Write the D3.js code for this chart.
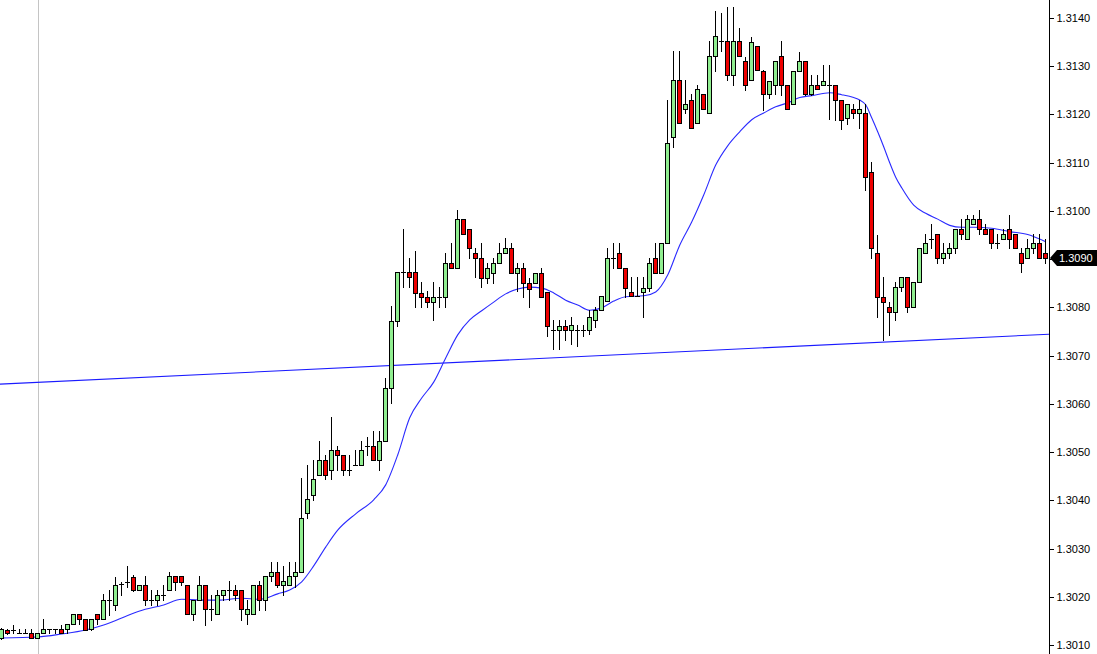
<!DOCTYPE html>
<html>
<head>
<meta charset="utf-8">
<script src="https://cdn.jsdelivr.net/npm/d3@7/dist/d3.min.js"></script>
<style>
  html, body { margin: 0; padding: 0; background: #fff; }
  svg { display: block; }
</style>
</head>
<body>
<svg id="chart" width="1097" height="654"></svg>
<script>
// ---------------- DATA ----------------
const openP = [
1.30115,1.30132,1.30132,1.30124,1.30124,1.30124,1.30114,1.30124,1.30133,1.30133,
1.30133,1.30133,1.30143,1.30164,1.30153,1.30133,1.30164,1.30153,1.30193,1.30183,
1.30226,1.30231,1.30242,1.30214,1.30224,1.30193,1.30193,1.30204,1.30214,1.30243,
1.30243,1.30224,1.30164,1.30193,1.30224,1.30174,1.30164,1.30204,1.30214,1.30214,
1.30214,1.30164,1.30164,1.30224,1.30193,1.30243,1.30252,1.30224,1.30224,1.30243,
1.30252,1.30373,1.30412,1.30452,1.30484,1.30463,1.30504,1.30494,1.30463,1.30473,
1.30473,1.30513,1.30513,1.30484,1.30523,1.30632,1.30772,1.30874,1.30874,1.30874,
1.30830,1.30822,1.30812,1.30822,1.30822,1.30891,1.30881,1.30983,1.30962,1.30912,
1.30902,1.30860,1.30872,1.30891,1.30912,1.30923,1.30872,1.30881,1.30851,1.30851,
1.30872,1.30831,1.30753,1.30753,1.30761,1.30753,1.30753,1.30753,1.30753,1.30774,
1.30795,1.30813,1.30902,1.30912,1.30881,1.30831,1.30824,1.30831,1.30841,1.30902,
1.30872,1.30933,1.31153,1.31271,1.31211,1.31231,1.31182,1.31242,1.31202,1.31321,
1.31352,1.31352,1.31282,1.31352,1.31311,1.31271,1.31341,1.31291,1.31242,1.31261,
1.31321,1.31261,1.31222,1.31291,1.31311,1.31242,1.31261,1.31261,1.31261,1.31261,
1.31231,1.31192,1.31211,1.31202,1.31202,1.31081,1.30912,1.30822,1.30801,1.30791,
1.30842,1.30862,1.30801,1.30852,1.30912,1.30941,1.30952,1.30902,1.30912,1.30923,
1.30962,1.30941,1.30973,1.30983,1.30962,1.30962,1.30933,1.30941,1.30962,1.30952,
1.30912,1.30902,1.30923,1.30933,1.30912
];
const highP = [
1.30135,1.30133,1.30141,1.30133,1.30133,1.30133,1.30124,1.30154,1.30133,1.30133,
1.30141,1.30143,1.30164,1.30164,1.30153,1.30153,1.30164,1.30206,1.30214,1.30242,
1.30231,1.30264,1.30245,1.30224,1.30243,1.30214,1.30214,1.30224,1.30252,1.30243,
1.30243,1.30224,1.30193,1.30243,1.30224,1.30204,1.30214,1.30214,1.30233,1.30224,
1.30214,1.30193,1.30224,1.30233,1.30243,1.30273,1.30273,1.30264,1.30273,1.30273,
1.30446,1.30473,1.30484,1.30523,1.30494,1.30572,1.30513,1.30494,1.30494,1.30504,
1.30523,1.30532,1.30544,1.30544,1.30653,1.30803,1.30874,1.30962,1.30902,1.30916,
1.30853,1.30834,1.30853,1.30842,1.30912,1.30933,1.31002,1.30983,1.30962,1.30923,
1.30933,1.30891,1.30902,1.30933,1.30943,1.30933,1.30891,1.30891,1.30860,1.30872,
1.30881,1.30831,1.30774,1.30774,1.30774,1.30781,1.30763,1.30763,1.30795,1.30801,
1.30824,1.30923,1.30933,1.30933,1.30881,1.30864,1.30864,1.30864,1.30902,1.30933,
1.30933,1.31231,1.31332,1.31332,1.31271,1.31242,1.31261,1.31242,1.31352,1.31415,
1.31411,1.31423,1.31423,1.31380,1.31320,1.31360,1.31341,1.31292,1.31270,1.31311,
1.31352,1.31261,1.31291,1.31330,1.31311,1.31282,1.31282,1.31303,1.31303,1.31261,
1.31231,1.31221,1.31222,1.31231,1.31222,1.31102,1.30950,1.30864,1.30812,1.30853,
1.30862,1.30862,1.30852,1.30923,1.30952,1.30973,1.30952,1.30933,1.30933,1.30962,
1.30983,1.30992,1.30992,1.31002,1.30972,1.30962,1.30952,1.30962,1.30992,1.30952,
1.30923,1.30941,1.30952,1.30952,1.30941
];
const lowP = [
1.30113,1.30123,1.30124,1.30124,1.30124,1.30114,1.30114,1.30124,1.30124,1.30124,
1.30124,1.30124,1.30143,1.30143,1.30131,1.30131,1.30143,1.30153,1.30162,1.30173,
1.30204,1.30221,1.30212,1.30214,1.30183,1.30183,1.30183,1.30193,1.30214,1.30214,
1.30224,1.30164,1.30152,1.30193,1.30141,1.30152,1.30164,1.30193,1.30193,1.30193,
1.30152,1.30143,1.30164,1.30173,1.30173,1.30232,1.30221,1.30204,1.30224,1.30221,
1.30252,1.30363,1.30401,1.30452,1.30444,1.30444,1.30463,1.30452,1.30452,1.30473,
1.30473,1.30494,1.30484,1.30463,1.30523,1.30602,1.30761,1.30842,1.30842,1.30801,
1.30801,1.30801,1.30774,1.30801,1.30801,1.30881,1.30881,1.30952,1.30902,1.30862,
1.30843,1.30850,1.30850,1.30891,1.30912,1.30872,1.30833,1.30822,1.30801,1.30851,
1.30822,1.30741,1.30713,1.30713,1.30732,1.30725,1.30720,1.30740,1.30745,1.30760,
1.30795,1.30813,1.30881,1.30881,1.30822,1.30824,1.30824,1.30781,1.30833,1.30872,
1.30872,1.30933,1.31133,1.31183,1.31202,1.31171,1.31182,1.31211,1.31202,1.31291,
1.31332,1.31271,1.31261,1.31321,1.31251,1.31271,1.31292,1.31209,1.31235,1.31242,
1.31240,1.31211,1.31222,1.31291,1.31240,1.31240,1.31252,1.31261,1.31190,1.31189,
1.31170,1.31180,1.31192,1.31171,1.31043,1.30902,1.30781,1.30732,1.30743,1.30774,
1.30833,1.30791,1.30801,1.30852,1.30912,1.30923,1.30891,1.30891,1.30902,1.30912,
1.30941,1.30941,1.30973,1.30952,1.30952,1.30923,1.30923,1.30941,1.30923,1.30923,
1.30874,1.30902,1.30912,1.30902,1.30891
];
const closeP = [
1.30133,1.30124,1.30132,1.30124,1.30124,1.30114,1.30124,1.30133,1.30133,1.30133,
1.30124,1.30143,1.30164,1.30154,1.30131,1.30153,1.30153,1.30193,1.30193,1.30224,
1.30226,1.30231,1.30214,1.30224,1.30193,1.30193,1.30204,1.30204,1.30243,1.30231,
1.30231,1.30164,1.30193,1.30224,1.30174,1.30174,1.30204,1.30214,1.30214,1.30204,
1.30174,1.30174,1.30224,1.30193,1.30243,1.30252,1.30224,1.30233,1.30243,1.30252,
1.30363,1.30402,1.30444,1.30484,1.30452,1.30504,1.30494,1.30463,1.30463,1.30473,
1.30504,1.30513,1.30484,1.30523,1.30632,1.30772,1.30874,1.30874,1.30862,1.30830,
1.30822,1.30812,1.30822,1.30822,1.30891,1.30881,1.30983,1.30952,1.30923,1.30902,
1.30860,1.30881,1.30891,1.30912,1.30923,1.30872,1.30881,1.30851,1.30839,1.30872,
1.30822,1.30761,1.30753,1.30761,1.30753,1.30763,1.30753,1.30753,1.30781,1.30795,
1.30824,1.30902,1.30902,1.30881,1.30841,1.30824,1.30824,1.30841,1.30891,1.30872,
1.30933,1.31141,1.31271,1.31183,1.31221,1.31171,1.31252,1.31211,1.31321,1.31363,
1.31352,1.31282,1.31352,1.31321,1.31261,1.31350,1.31292,1.31242,1.31270,1.31311,
1.31261,1.31211,1.31291,1.31311,1.31242,1.31261,1.31252,1.31270,1.31261,1.31231,
1.31189,1.31221,1.31202,1.31211,1.31071,1.30923,1.30822,1.30812,1.30791,1.30842,
1.30862,1.30801,1.30852,1.30923,1.30933,1.30941,1.30902,1.30912,1.30923,1.30962,
1.30952,1.30983,1.30983,1.30962,1.30952,1.30933,1.30933,1.30952,1.30941,1.30923,
1.30891,1.30923,1.30933,1.30902,1.30902
];

// Moving average line, read at selected bars (bar index, price)
const maIndex = [0,6,10,14,17,20,23,27,30,33,36,40,43,46,48,50,52,54,56,59,
  62,64,66,68,70,72,74,76,78,80,82,84,86,88,90,92,94,96,98,100,
  102,104,107,109,111,113,115,117,119,121,123,125,127,129,131,133,135,138,140,142,
  143,144,145,146,147,148,149,150,152,154,156,158,160,162,165,168,171,174];
const maValue = [1.301145,1.301166,1.301228,1.301311,1.301415,1.30156,1.301705,1.30183,1.30195,1.30193,
  1.30193,1.30197,1.30195,1.30206,1.30214,1.30231,1.30264,1.30303,1.30338,1.30372,
  1.30401,1.30432,1.30494,1.30571,1.30612,1.30645,1.30695,1.30743,1.30774,1.30793,
  1.30811,1.30828,1.30838,1.30842,1.30840,1.30830,1.30815,1.30805,1.30794,1.30799,
  1.30813,1.30822,1.30824,1.30832,1.30867,1.30929,1.30977,1.31033,1.31095,1.31135,
  1.31164,1.31189,1.31203,1.31216,1.31224,1.31235,1.31239,1.31245,1.31241,1.31235,
  1.31230,1.31220,1.31193,1.31164,1.31133,1.31100,1.31070,1.31048,1.31012,1.30995,
  1.30983,1.30970,1.30966,1.30966,1.30964,1.30957,1.30951,1.30936];

// Support trendline, anchored at two bars (bar index, price)
const trendIndex = [0, 174];
const trendValue = [1.30641, 1.30744];

// Price axis ticks
const tickValues = [1.3010,1.3020,1.3030,1.3040,1.3050,1.3060,1.3070,1.3080,1.3090,1.3100,1.3110,1.3120,1.3130,1.3140];
const lastPriceLabel = "1.3090";

// ---------------- DRAWING ----------------
const W = 1097, H = 654;
const axisX = 1049;
const svg = d3.select("#chart");

const x = d3.scaleLinear().domain([0, openP.length - 1]).range([1.7, 1045.7]);
const y = d3.scaleLinear().domain([1.3010, 1.3140]).range([645, 18]);

svg.append("rect").attr("width", W).attr("height", H).attr("fill", "#fff");

svg.append("clipPath").attr("id", "plotClip")
  .append("rect").attr("x", 0).attr("y", 0).attr("width", axisX).attr("height", H);

// vertical grey separator line
svg.append("line")
  .attr("x1", 38.5).attr("x2", 38.5).attr("y1", 0).attr("y2", H)
  .attr("stroke", "#c4c4c4").attr("stroke-width", 1);

const plot = svg.append("g").attr("clip-path", "url(#plotClip)");

// trendline extended across plot
const slope = (trendValue[1] - trendValue[0]) / (trendIndex[1] - trendIndex[0]);
const iLeft = x.invert(0), iRight = x.invert(axisX);
plot.append("line")
  .attr("x1", 0).attr("y1", y(trendValue[0] + slope * (iLeft - trendIndex[0])))
  .attr("x2", axisX).attr("y2", y(trendValue[0] + slope * (iRight - trendIndex[0])))
  .attr("stroke", "#1a1aff").attr("stroke-width", 1.1);

// MA line
const maPts = maIndex.map((d, k) => [x(d), y(maValue[k])]);
plot.append("path")
  .attr("d", d3.line().curve(d3.curveMonotoneX)(maPts))
  .attr("fill", "none").attr("stroke", "#2b2bff").attr("stroke-width", 1.1);

// candles
const bars = plot.append("g").attr("shape-rendering", "crispEdges");
openP.forEach((o, i) => {
  const c = closeP[i], h = highP[i], l = lowP[i];
  const cx = Math.floor(x(i));
  const g = bars.append("g");
  g.append("line")
    .attr("x1", cx + 0.5).attr("x2", cx + 0.5)
    .attr("y1", Math.round(y(h))).attr("y2", Math.round(y(l)) + 1)
    .attr("stroke", "#000").attr("stroke-width", 1);
  const yTop = Math.round(y(Math.max(o, c)));
  const yBot = Math.round(y(Math.min(o, c)));
  if (yBot - yTop < 2) {
    g.append("line")
      .attr("x1", cx - 2).attr("x2", cx + 3)
      .attr("y1", yTop + 0.5).attr("y2", yTop + 0.5)
      .attr("stroke", "#000").attr("stroke-width", 1);
  } else {
    g.append("rect")
      .attr("x", cx - 1.5).attr("width", 4)
      .attr("y", yTop + 0.5).attr("height", yBot - yTop)
      .attr("fill", c >= o ? "#90ee90" : "#ee0000")
      .attr("stroke", "#000").attr("stroke-width", 1);
  }
});

// price axis
svg.append("line")
  .attr("x1", axisX + 0.5).attr("x2", axisX + 0.5).attr("y1", 0).attr("y2", H)
  .attr("stroke", "#000").attr("stroke-width", 1);

const axis = d3.axisRight(y)
  .tickValues(tickValues)
  .tickFormat(d => d3.format(".4f")(d) === lastPriceLabel ? "" : d3.format(".4f")(d))
  .tickSize(4)
  .tickPadding(3);
const ag = svg.append("g")
  .attr("transform", `translate(${axisX + 0.5},0)`)
  .call(axis);
ag.select(".domain").remove();
ag.selectAll(".tick line").attr("stroke", "#000").attr("shape-rendering", "crispEdges");
ag.selectAll(".tick text")
  .attr("fill", "#000")
  .style("font-family", "'Liberation Sans', Arial, sans-serif")
  .style("font-size", "11px");

// last price marker
const lastY = Math.round(y(closeP[closeP.length - 1]));
svg.append("path")
  .attr("d", `M${axisX + 1},${lastY} L${axisX + 8},${lastY - 8} L${W},${lastY - 8} L${W},${lastY + 8} L${axisX + 8},${lastY + 8} Z`)
  .attr("fill", "#000");
svg.append("text")
  .attr("x", axisX + 10).attr("y", lastY + 4)
  .attr("fill", "#fff")
  .style("font-family", "'Liberation Sans', Arial, sans-serif")
  .style("font-size", "11px")
  .text(lastPriceLabel);
</script>
</body>
</html>
